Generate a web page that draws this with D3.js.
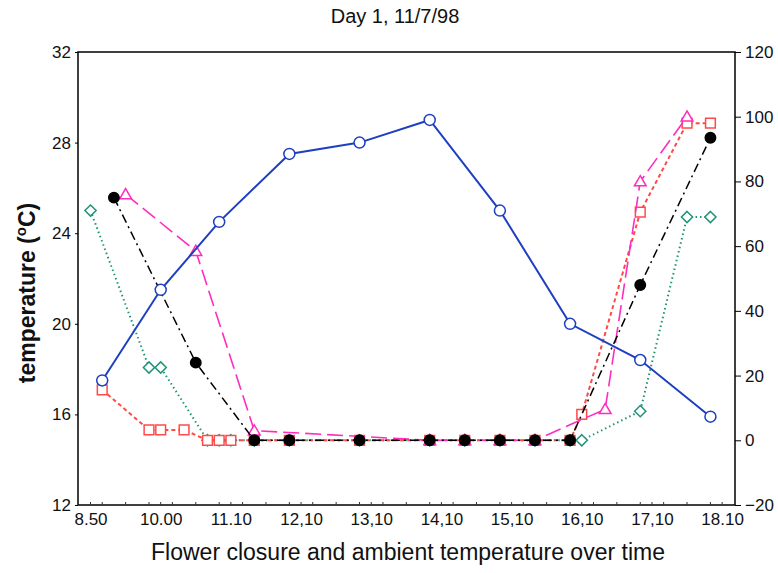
<!DOCTYPE html>
<html>
<head>
<meta charset="utf-8">
<script src="https://cdn.jsdelivr.net/npm/d3@7"></script>
<style>
  body { margin: 0; background: #fff; }
  svg { font-family: "Liberation Sans", Arial, sans-serif; }
</style>
</head>
<body>
<div id="chart"></div>
<script>
// x positions are in 10-minute steps from the first reading (8.50)
const tickSteps = [0, 6, 12, 18, 24, 30, 36, 42, 48, 54];
const tickLabels = ["8.50", "10.00", "11.10", "12,10", "13,10", "14,10", "15,10", "16,10", "17,10", "18.10"];
const leftTicks = [12, 16, 20, 24, 28, 32];
const rightTicks = [-20, 0, 20, 40, 60, 80, 100, 120];

// ambient temperature (left axis)
const tempX = [1, 6, 11, 17, 23, 29, 35, 41, 47, 53];
const tempY = [17.5, 21.5, 24.5, 27.5, 28.0, 29.0, 25.0, 20.0, 18.4, 15.9];

// flower closure series (right axis)
const blackX = [2, 9, 14, 17, 23, 29, 32, 35, 38, 41, 47, 53];
const blackY = [75, 24, 0, 0, 0, 0, 0, 0, 0, 0, 48, 93.5];

const pinkX = [3, 9, 14, 29, 32, 35, 38, 44, 47, 51];
const pinkY = [76, 58.5, 3, 0, 0, 0, 0, 9.6, 80, 100];

const redX = [1, 5, 6, 8, 10, 11, 12, 14, 17, 23, 29, 32, 35, 38, 41, 42, 47, 51, 53];
const redY = [15.6, 3.2, 3.2, 3.2, 0, 0, 0, 0, 0, 0, 0, 0, 0, 0, 0, 8, 70.5, 98, 98];

const greenX = [0, 5, 6, 10, 11, 12, 14, 17, 23, 29, 32, 35, 38, 41, 42, 47, 51, 53];
const greenY = [71, 22.5, 22.5, 0, 0, 0, 0, 0, 0, 0, 0, 0, 0, 0, 0, 9, 69, 69];

const width = 778;
const height = 573;
const margin = {left: 78, right: 43, top: 52, bottom: 68};
const innerW = width - margin.left - margin.right;
const innerH = height - margin.top - margin.bottom;
const tickFont = 17;

const svg = d3.select("#chart").append("svg")
    .attr("width", width)
    .attr("height", height);

const x = d3.scaleLinear().domain([-1.07, 55.1]).range([margin.left, margin.left + innerW]);
const yL = d3.scaleLinear().domain([12, 32]).range([margin.top + innerH, margin.top]);
const yR = d3.scaleLinear().domain([-20, 120]).range([margin.top + innerH, margin.top]);

// frame
svg.append("rect")
    .attr("x", margin.left).attr("y", margin.top)
    .attr("width", innerW).attr("height", innerH)
    .attr("fill", "none").attr("stroke", "#000").attr("stroke-width", 1.5);

function styleText(g) {
    g.select(".domain").remove();
    g.attr("font-size", tickFont).attr("font-family", "Liberation Sans, Arial, sans-serif");
    g.selectAll("text").attr("fill", "#111");
}

// bottom axis: labels + small inward ticks
const bottom = svg.append("g").attr("transform", `translate(0,${margin.top + innerH})`);
bottom.call(d3.axisBottom(x).tickValues(tickSteps).tickFormat((d, i) => tickLabels[i]).tickSize(0).tickPadding(8))
    .call(styleText);
const minor = d3.range(0, 55);
bottom.selectAll("line.minor").data(minor).join("line")
    .attr("class", "minor")
    .attr("x1", d => x(d)).attr("x2", d => x(d))
    .attr("y1", 0).attr("y2", d => d % 2 === 1 || d % 6 === 0 ? -3 : 0)
    .attr("stroke", "#333").attr("stroke-width", 1);

// left axis
svg.append("g").attr("transform", `translate(${margin.left},0)`)
    .call(d3.axisLeft(yL).tickValues(leftTicks).tickSize(3).tickPadding(4))
    .call(styleText);

// right axis
svg.append("g").attr("transform", `translate(${margin.left + innerW},0)`)
    .call(d3.axisRight(yR).tickValues(rightTicks).tickSize(6).tickPadding(4))
    .call(styleText);

// titles
svg.append("text")
    .attr("x", 395).attr("y", 23)
    .attr("text-anchor", "middle")
    .attr("font-size", 20)
    .attr("fill", "#111")
    .text("Day 1, 11/7/98");

svg.append("text")
    .attr("x", 408).attr("y", 560)
    .attr("text-anchor", "middle")
    .attr("font-size", 23)
    .attr("fill", "#111")
    .text("Flower closure and ambient temperature over time");

const yTitle = svg.append("text")
    .attr("transform", "translate(35,293) rotate(-90)")
    .attr("text-anchor", "middle")
    .attr("font-size", 23)
    .attr("font-weight", "bold")
    .attr("fill", "#111");
yTitle.append("tspan").text("temperature (");
yTitle.append("tspan").attr("font-size", 15).attr("dy", -9).text("o");
yTitle.append("tspan").attr("dy", 9).text("C)");

// series helper
function drawSeries(xs, ys, yScale, opts) {
    const pts = xs.map((d, i) => [x(d), yScale(ys[i])]);
    const g = svg.append("g");
    g.append("path")
        .attr("d", d3.line()(pts))
        .attr("fill", "none")
        .attr("stroke", opts.color)
        .attr("stroke-width", opts.width)
        .attr("stroke-dasharray", opts.dash);
    const sym = d3.symbol().type(opts.symbol).size(opts.size);
    g.selectAll("path.pt").data(pts).join("path")
        .attr("class", "pt")
        .attr("transform", d => `translate(${d[0]},${d[1] + (opts.dy || 0)})`)
        .attr("d", sym)
        .attr("fill", opts.fill)
        .attr("stroke", opts.color)
        .attr("stroke-width", 1.5);
}

drawSeries(greenX, greenY, yR, {color: "#1f9478", width: 2, dash: "1.5,3", symbol: d3.symbolDiamond2, size: 80, fill: "#fff"});
drawSeries(redX, redY, yR, {color: "#ff4a4a", width: 2, dash: "4,3", symbol: d3.symbolSquare, size: 95, fill: "#fff"});
drawSeries(pinkX, pinkY, yR, {color: "#ff2dbe", width: 1.6, dash: "16,6", symbol: d3.symbolTriangle, size: 60, fill: "#fff", dy: 1});
drawSeries(blackX, blackY, yR, {color: "#000", width: 1.5, dash: "9,4,2,4", symbol: d3.symbolCircle, size: 85, fill: "#000"});
drawSeries(tempX, tempY, yL, {color: "#1e40c0", width: 2, dash: null, symbol: d3.symbolCircle, size: 95, fill: "#fff"});
</script>
</body>
</html>
